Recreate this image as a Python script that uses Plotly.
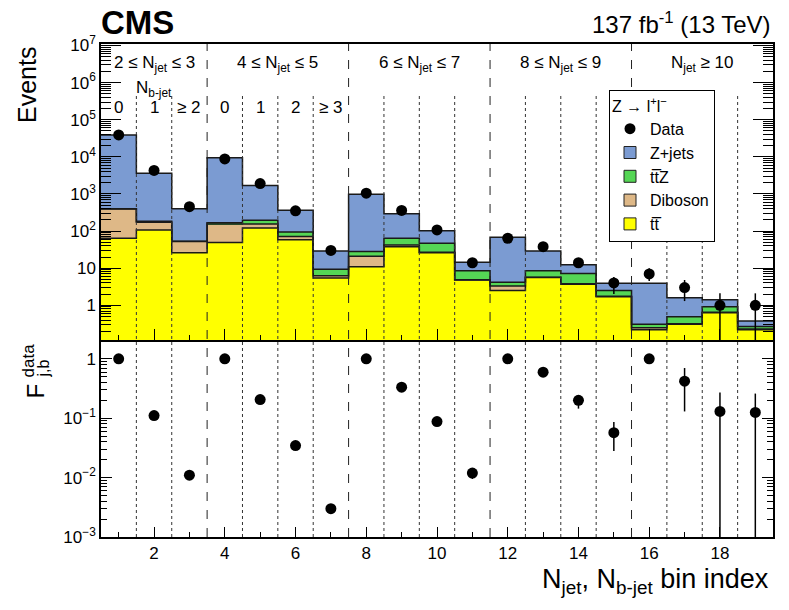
import numpy as np
import plotly.graph_objects as go

# ---- data ----
bins = list(range(1, 20))

# background stack, per bin (events)
ttbar = [64, 107, 26, 49, 121, 58, 5.4, 11, 38, 26, 4.8, 2.5, 5.6, 3.7, 1.7, 0.22, 0.31, 0.63, 0.22]
diboson = [332, 66, 26, 105, 34, 13, 0.9, 10, 4, 1, 0.1, 0.8, 0.1, 0.1, 0.05, 0.03, 0.01, 0.02, 0.01]
ttz = [4, 10, 1.5, 13, 40, 24, 3.0, 7, 22, 20, 3.6, 0.9, 2.8, 3.4, 0.75, 0.06, 0.17, 0.27, 0.04]
zjets = [38600, 3420, 346, 9330, 1505, 268, 19.7, 952, 231, 55, 5.9, 63.8, 20.5, 5.2, 1.4, 3.6, 1.1, 0.48, 0.11]

data = [39000, 4300, 455, 8800, 1900, 350, 30, 1050, 360, 107, 14, 64, 38, 14, 4, 7, 3, 1, 1]
data_err_up = [0, 0, 0, 0, 0, 0, 6, 0, 0, 11, 4, 8, 6, 4, 1.8, 3, 1.8, 1.1, 1.1]
data_err_dn = [0, 0, 0, 0, 0, 0, 5, 0, 0, 10, 3.5, 7, 5.5, 3.5, 2, 2.5, 1.7, 0.99, 0.99]

# F_{j,b} = N(j,b) / N(j,0)
f_vals = [1, 0.111, 0.011, 1, 0.206, 0.0346, 0.003, 1, 0.333, 0.088, 0.0119, 1, 0.596, 0.2, 0.057, 1, 0.42, 0.13, 0.125]
f_err_up = [0, 0, 0, 0, 0, 0, 0, 0, 0, 0, 0.0026, 0, 0.07, 0.04, 0.029, 0, 0.28, 0.14, 0.135]
f_err_dn = [0, 0, 0, 0, 0, 0, 0, 0, 0, 0, 0.0024, 0, 0.06, 0.055, 0.029, 0, 0.29, 0.1299, 0.1249]

group_sizes = [3, 4, 4, 4, 4]
group_labels = ["2 ≤ N<sub>jet</sub> ≤ 3", "4 ≤ N<sub>jet</sub> ≤ 5", "6 ≤ N<sub>jet</sub> ≤ 7",
                "8 ≤ N<sub>jet</sub> ≤ 9", "N<sub>jet</sub> ≥ 10"]
nb_labels = ["0", "1", "≥ 2", "0", "1", "2", "≥ 3"]

ev_tickvals = [1, 10, 1e2, 1e3, 1e4, 1e5, 1e6, 1e7]
ev_ticktext = ["1", "10", "10<sup>2</sup>", "10<sup>3</sup>", "10<sup>4</sup>", "10<sup>5</sup>",
               "10<sup>6</sup>", "10<sup>7</sup>"]
f_tickvals = [1e-3, 1e-2, 1e-1, 1]
f_ticktext = ["10<sup>−3</sup>", "10<sup>−2</sup>", "10<sup>−1</sup>", "1"]

FONT = "Liberation Sans"
colors = {"zjets": "#7b9bd2", "ttz": "#55d655", "diboson": "#deb887", "ttbar": "#ffff00"}
names = {"zjets": "Z+jets", "ttz": "tt̅Z", "diboson": "Diboson", "ttbar": "tt̅"}

# page geometry (pixels) -> paper coords
L, R, T, B = 101, 773, 44, 537
def px(x):
    return (x - L) / (R - L)
def py(y):
    return (B - y) / (B - T)
split = py(340)

fig = go.Figure()

# stacked histogram fills, bottom to top
stack = [("ttbar", ttbar), ("diboson", diboson), ("ttz", ttz), ("zjets", zjets)]
for key, vals in stack:
    fig.add_trace(go.Bar(x=bins, y=vals, marker=dict(color=colors[key], line=dict(width=0)),
                         width=1, showlegend=False, hoverinfo="skip", xaxis="x", yaxis="y"))

# step outlines of the cumulative stack
cum = np.zeros(len(bins))
edges = [b - 0.5 for b in bins] + [bins[-1] + 0.5]
for key, vals in stack:
    cum = cum + np.array(vals)
    fig.add_trace(go.Scatter(x=edges, y=list(cum) + [cum[-1]], mode="lines", line_shape="hv",
                             line=dict(color="#1a1a1a", width=1.5), showlegend=False,
                             hoverinfo="skip", xaxis="x", yaxis="y"))

# data points
fig.add_trace(go.Scatter(x=bins, y=data, mode="markers", name="Data",
                         marker=dict(color="black", size=11),
                         error_y=dict(type="data", array=data_err_up, arrayminus=data_err_dn,
                                      color="black", thickness=1.5, width=0),
                         legendrank=1, xaxis="x", yaxis="y"))

# legend swatches with outline
for rank, key in enumerate(["zjets", "ttz", "diboson", "ttbar"]):
    fig.add_trace(go.Bar(x=[None], y=[None], name=names[key],
                         marker=dict(color=colors[key], line=dict(color="#222", width=1)),
                         legendrank=rank + 2, xaxis="x", yaxis="y"))

# lower panel F_{j,b}
fig.add_trace(go.Scatter(x=bins, y=f_vals, mode="markers", showlegend=False,
                         marker=dict(color="black", size=11),
                         error_y=dict(type="data", array=f_err_up, arrayminus=f_err_dn,
                                      color="black", thickness=1.5, width=0),
                         xaxis="x2", yaxis="y2"))

# vertical separators
bounds = list(np.cumsum(group_sizes)[:-1] + 0.5)
for xb in bounds:
    fig.add_shape(type="line", x0=xb, x1=xb, xref="x", y0=0, y1=1, yref="paper",
                  line=dict(color="#222", width=1, dash="dash"), layer="above")
for xb in [b + 0.5 for b in bins[:-1]]:
    if xb in bounds:
        continue
    fig.add_shape(type="line", x0=xb, x1=xb, xref="x", y0=0, y1=py(94), yref="paper",
                  line=dict(color="#333", width=1, dash="dot"), layer="above")


def label(x, y, text, size, xref="paper", xanchor="center", yanchor="middle", angle=0):
    return dict(x=x, y=y, xref=xref, yref="paper", text=text, showarrow=False,
                xanchor=xanchor, yanchor=yanchor, textangle=angle, font=dict(size=size))


ann = []
start = 0
for size, lab in zip(group_sizes, group_labels):
    ann.append(label(np.mean(bins[start:start + size]), py(64), lab, 17, xref="x"))
    start += size
ann.append(label(2, py(89), "N<sub>b-jet</sub>", 17, xref="x"))
for b, lab in zip(bins, nb_labels):
    ann.append(label(b, py(107), lab, 17, xref="x"))

ann += [
    label(px(99), py(22), "<b>CMS</b>", 33, xanchor="left"),
    label(px(773), py(23), "137 fb<sup>-1</sup> (13 TeV)", 24, xanchor="right"),
    label(px(771), py(562), "N<sub>jet</sub>, N<sub>b-jet</sub> bin index", 27,
          xanchor="right", yanchor="top"),
    label(px(27), py(85), "Events", 25, angle=-90),
    label(px(34.5), py(391), "F", 24, angle=-90),
    label(px(27.5), py(361), "data", 17, angle=-90),
    label(px(42.5), py(369), "j,b", 16, angle=-90),
]

up_minor = [m * 10.0 ** e for e in range(-1, 7) for m in range(2, 10)]
lo_minor = [m * 10.0 ** e for e in range(-3, 1) for m in range(2, 10)]

frame = dict(showline=True, linecolor="black", linewidth=1.5, showgrid=False, zeroline=False,
             ticks="inside", tickcolor="black", tickwidth=1)

fig.update_layout(
    width=789, height=610, autosize=False,
    margin=dict(l=L, r=789 - R, t=T, b=610 - B),
    paper_bgcolor="white", plot_bgcolor="white",
    font=dict(family=FONT, color="black", size=17),
    barmode="stack", bargap=0,
    xaxis=dict(frame, domain=[0, 1], anchor="y", range=[0.5, 19.5], mirror=True,
               tick0=0, dtick=2, ticklen=11, showticklabels=False,
               minor=dict(dtick=1, ticks="inside", ticklen=5, tickcolor="black")),
    yaxis=dict(frame, domain=[split, 1], anchor="x", type="log", range=[-0.935, 7.04],
               mirror="allticks", tickvals=ev_tickvals, ticktext=ev_ticktext, ticklen=20,
               tickfont=dict(size=17),
               minor=dict(tickvals=up_minor, ticks="inside", ticklen=10, tickcolor="black")),
    xaxis2=dict(frame, domain=[0, 1], anchor="y2", range=[0.5, 19.5], mirror=False,
                tick0=0, dtick=2, ticklen=10, tickfont=dict(size=17), matches="x",
                minor=dict(dtick=1, ticks="inside", ticklen=5, tickcolor="black")),
    yaxis2=dict(frame, domain=[0, split], anchor="x2", type="log", range=[-3, 0.317],
                mirror="allticks", tickvals=f_tickvals, ticktext=f_ticktext, ticklen=11,
                tickfont=dict(size=17),
                minor=dict(tickvals=lo_minor, ticks="inside", ticklen=6, tickcolor="black")),
    legend=dict(x=px(609), y=py(90), xanchor="left", yanchor="top",
                bordercolor="black", borderwidth=1, bgcolor="white",
                title=dict(text="Z → l<sup>+</sup>l<sup>−</sup>", font=dict(size=16)),
                font=dict(size=16), traceorder="normal"),
    annotations=ann,
)

fig.write_html("out.html", config={"displayModeBar": False},
               post_script="document.body.style.margin='0px';")
